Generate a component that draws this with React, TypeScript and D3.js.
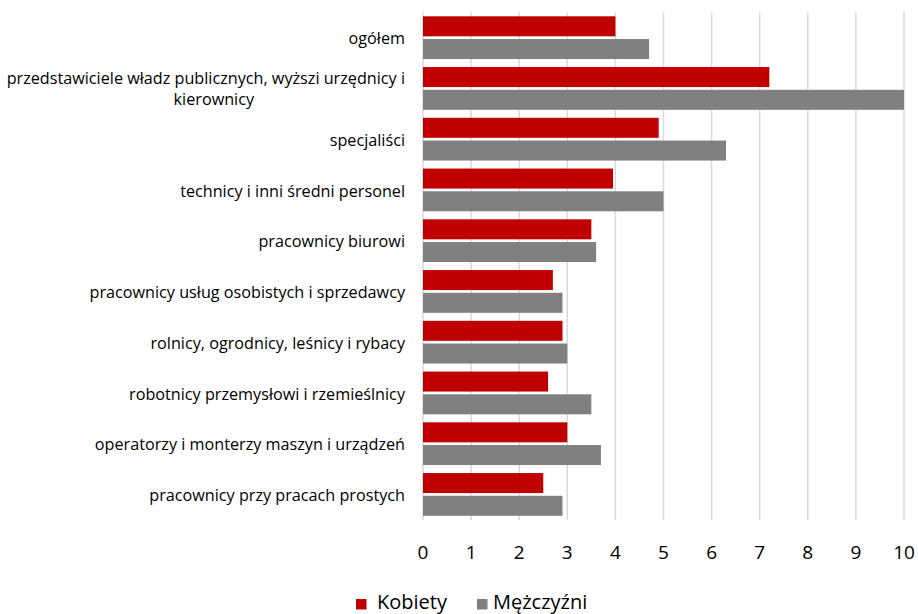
import React, { useEffect, useRef } from "react";
import * as d3 from "d3";

const categories: string[][] = [
  ["ogółem"],
  ["przedstawiciele władz publicznych, wyższi urzędnicy i", "kierownicy"],
  ["specjaliści"],
  ["technicy i inni średni personel"],
  ["pracownicy biurowi"],
  ["pracownicy usług osobistych i sprzedawcy"],
  ["rolnicy, ogrodnicy, leśnicy i rybacy"],
  ["robotnicy przemysłowi i rzemieślnicy"],
  ["operatorzy i monterzy maszyn i urządzeń"],
  ["pracownicy przy pracach prostych"],
];
const kobiety = [4.0, 7.2, 4.9, 3.95, 3.5, 2.7, 2.9, 2.6, 3.0, 2.5];
const mezczyzni = [4.7, 10.0, 6.3, 5.0, 3.6, 2.9, 3.0, 3.5, 3.7, 2.9];
const seriesNames = ["Kobiety", "Mężczyźni"];
const seriesColors = ["#C00000", "#808080"];
const xTicks = [0, 1, 2, 3, 4, 5, 6, 7, 8, 9, 10];

const FONT = "'Open Sans', sans-serif";

export default function App() {
  const ref = useRef<SVGSVGElement | null>(null);

  useEffect(() => {
    document.body.style.margin = "0";
    const svg = d3.select(ref.current);
    svg.selectAll("*").remove();

    const x = d3.scaleLinear().domain([0, 10]).range([423, 904]);
    const keys = categories.map((_, i) => String(i));
    const y = d3.scaleBand<string>().domain(keys).range([12.5, 520]).padding(0);
    const inner = d3
      .scaleBand<string>()
      .domain(seriesNames)
      .range([3.8, y.bandwidth() - 4.2])
      .paddingInner(0.12);

    // gridlines
    svg
      .append("g")
      .selectAll("line")
      .data(xTicks)
      .join("line")
      .attr("x1", (d) => x(d))
      .attr("x2", (d) => x(d))
      .attr("y1", 12.5)
      .attr("y2", 520)
      .attr("stroke", "#d9d9d9")
      .attr("stroke-width", 1.5);

    // bars
    const series = [kobiety, mezczyzni];
    series.forEach((vals, si) => {
      svg
        .append("g")
        .selectAll("rect")
        .data(vals)
        .join("rect")
        .attr("x", x(0))
        .attr("y", (_, i) => (y(String(i)) as number) + (inner(seriesNames[si]) as number))
        .attr("width", (d) => x(d) - x(0))
        .attr("height", inner.bandwidth())
        .attr("fill", seriesColors[si]);
    });

    // x tick labels
    svg
      .append("g")
      .selectAll("text")
      .data(xTicks)
      .join("text")
      .attr("x", (d) => x(d))
      .attr("y", 559)
      .attr("text-anchor", "middle")
      .attr("font-family", FONT)
      .attr("font-size", 19)
      .attr("fill", "#000")
      .text((d) => String(d));

    // category labels
    const lg = svg.append("g");
    const lineH = 21;
    const right = 405;
    const fs = 16.2;
    categories.forEach((lines, i) => {
      const cy = (y(String(i)) as number) + y.bandwidth() / 2;
      const n = lines.length;
      const t = lg
        .append("text")
        .attr("font-family", FONT)
        .attr("font-size", fs)
        .attr("fill", "#000");
      if (n === 1) {
        t.attr("x", right).attr("y", cy + 6.5).attr("text-anchor", "end").text(lines[0]);
      } else {
        t.attr("x", right).attr("y", cy - lineH / 2 + 5.5).attr("text-anchor", "end").text(lines[0]);
        const w = (t.node() as SVGTextElement).getComputedTextLength();
        const center = right - w / 2 + 8;
        lg.append("text")
          .attr("font-family", FONT)
          .attr("font-size", fs)
          .attr("fill", "#000")
          .attr("x", center)
          .attr("y", cy + lineH / 2 + 5.5)
          .attr("text-anchor", "middle")
          .text(lines[1]);
      }
    });

    // legend
    const leg = svg.append("g");
    const legX = [356, 477];
    const legTextX = [377, 493];
    seriesNames.forEach((name, i) => {
      leg
        .append("rect")
        .attr("x", legX[i])
        .attr("y", 599)
        .attr("width", 10.5)
        .attr("height", 10.5)
        .attr("fill", seriesColors[i]);
      leg
        .append("text")
        .attr("x", legTextX[i])
        .attr("y", 609)
        .attr("font-family", FONT)
        .attr("font-size", 20)
        .attr("fill", "#000")
        .text(name);
    });
  }, []);

  return <svg ref={ref} width={918} height={614} style={{ display: "block", background: "#fff" }} />;
}
